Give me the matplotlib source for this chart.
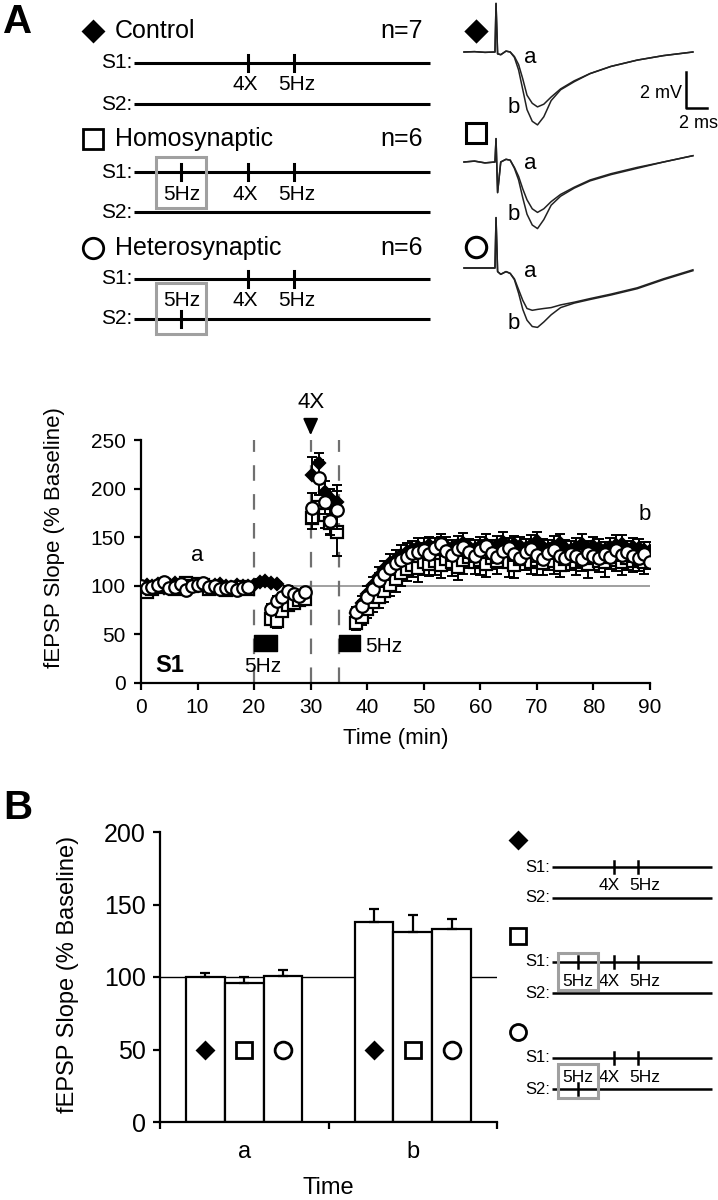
import matplotlib
matplotlib.use("Agg")
import matplotlib.pyplot as plt
from matplotlib.patches import Rectangle

plt.rcParams['font.family'] = ['Liberation Sans', 'DejaVu Sans']

# ---------------- data: time course (% baseline) ----------------
t_base = list(range(0, 20))
t_ctrl_5hz = [20, 21, 22, 23, 24]
t_prime = [23, 24, 25, 26, 27, 28, 29]
t_4x = [30.3, 31.4, 32.5, 33.5, 34.6]
t_late = list(range(38, 91))

ctrl_base = [99, 101, 100, 102, 98, 101, 103, 100, 99, 102, 101, 100, 98, 101, 102, 100, 99, 101, 100, 100]
homo_base = [95, 94, 97, 99, 101, 100, 97, 98, 103, 100, 102, 101, 97, 99, 98, 96, 97, 98, 99, 97]
het_base = [100, 98, 99, 101, 104, 98, 99, 102, 96, 100, 101, 103, 99, 100, 97, 98, 99, 96, 98, 99]

ctrl_5hz = [101, 104, 105, 103, 102]
homo_prime = [66, 64, 74, 80, 82, 85, 86]
het_prime = [76, 84, 88, 95, 92, 90, 94]

ctrl_4x = [214, 226, 196, 190, 186]
homo_4x = [170, 181, 173, 165, 155]
het_4x = [180, 211, 186, 167, 178]

ctrl_late = [72, 82, 92, 101, 110, 117, 123, 128, 132, 135,
             138, 140, 139, 142, 140, 143, 141, 139, 142, 144,
             140, 138, 141, 143, 139, 142, 145, 140, 143, 141,
             139, 142, 146, 140, 138, 141, 144, 139, 137, 140,
             143, 138, 141, 139, 137, 140, 142, 143, 138, 140,
             139, 137, 136]
homo_late = [62, 68, 76, 83, 88, 95, 101, 107, 113, 117,
             121, 118, 124, 122, 126, 121, 128, 124, 119, 127,
             130, 125, 127, 122, 129, 126, 131, 124, 121, 128,
             130, 125, 127, 123, 129, 126, 121, 128, 131, 124,
             127, 122, 129, 126, 124, 130, 127, 125, 129, 126,
             128, 124, 131]
het_late = [73, 79, 88, 97, 106, 112, 118, 123, 127, 130,
            134, 135, 137, 133, 139, 143, 136, 132, 138, 140,
            135, 131, 137, 141, 134, 130, 136, 139, 133, 129,
            135, 138, 132, 128, 134, 137, 131, 129, 133, 131,
            128, 134, 131, 129, 133, 130, 137, 132, 135, 131,
            129, 133, 125]

# error bars (SEM); control drawn upward, homosynaptic downward, heterosynaptic both
ctrl_err_base = [3, 2, 3, 2, 3, 3, 2, 3, 2, 3, 3, 2, 3, 3, 2, 3, 2, 3, 2, 3]
homo_err_base = [4, 5, 4, 3, 4, 5, 4, 4, 3, 5, 4, 4, 5, 3, 4, 4, 5, 4, 3, 4]
het_err_base = [3, 2, 3, 3, 2, 3, 3, 2, 3, 3, 2, 3, 2, 3, 3, 2, 3, 3, 2, 3]
ctrl_err_5hz = [2, 3, 2, 3, 2]
homo_err_prime = [6, 7, 6, 6, 5, 6, 5]
het_err_prime = [5, 6, 5, 5, 4, 5, 4]
ctrl_err_4x = [18, 11, 12, 10, 18]
homo_err_4x = [12, 14, 14, 12, 24]
het_err_4x = [15, 18, 12, 15, 20]
ctrl_err_late = [6, 7, 8, 8, 9, 9, 10, 9, 10, 9, 8, 9, 10, 8, 9, 10, 9, 8, 9, 10,
                 8, 9, 9, 10, 8, 9, 10, 9, 8, 9, 9, 10, 9, 8, 9, 10, 9, 8, 9, 9,
                 10, 8, 9, 9, 8, 9, 10, 9, 8, 9, 9, 8, 9]
homo_err_late = [7, 8, 9, 10, 11, 12, 12, 13, 13, 12, 12, 14, 13, 12, 15, 13, 12, 14, 13, 15,
                 12, 13, 16, 13, 12, 14, 13, 15, 13, 12, 14, 13, 16, 12, 13, 14, 12, 13, 15, 13,
                 12, 14, 13, 12, 15, 13, 12, 14, 13, 12, 13, 12, 14]
het_err_late = [5, 5, 6, 6, 7, 6, 7, 6, 6, 7, 6, 5, 7, 6, 6, 7, 5, 6, 7, 6,
                6, 7, 5, 6, 6, 7, 6, 5, 7, 6, 6, 5, 7, 6, 6, 7, 5, 6, 6, 7,
                6, 5, 7, 6, 6, 7, 5, 6, 6, 7, 6, 6, 7]

stim_windows = [(20, 24), (35, 38.8)]   # 5 Hz trains (min)
event_lines = [20, 30, 35]              # dashed lines (min)

# ---------------- data: panel B bars ----------------
bar_groups = ['a', 'b']
bar_ctrl = [100, 138]
bar_homo = [96, 131]
bar_het = [101, 133]
err_ctrl = [2.5, 9]
err_homo = [4, 12]
err_het = [3.5, 7]

# ---------------- data: example traces (ms, mV rel. baseline) ----------------
trace_t = [0, 1, 2, 2.95, 3.05, 3.2, 3.5, 4.0, 4.4, 4.8, 5.2, 5.6, 6.0, 6.5, 7.0, 7.6,
           8.3, 9.2, 10.5, 12, 14, 16.5, 19, 21.8]
ctrl_a = [0, 0.02, -0.02, 0, 2.7, -0.1, -0.15, 0.05, 0.0, -0.25, -0.7, -1.5, -2.4, -2.85, -3.05, -2.9,
          -2.5, -2.05, -1.6, -1.2, -0.8, -0.45, -0.2, 0.0]
ctrl_b = [0, 0.02, -0.02, 0, 2.7, -0.1, -0.15, 0.05, 0.0, -0.3, -1.0, -2.1, -3.2, -3.85, -4.05, -3.6,
          -2.7, -2.1, -1.65, -1.2, -0.8, -0.45, -0.2, 0.0]
homo_a = [0, 0.05, -0.05, 0, 1.3, -1.7, 0.0, 0.15, 0.1, -0.3, -0.8, -1.5, -2.1, -2.6, -2.8, -2.6,
          -2.2, -1.8, -1.4, -1.0, -0.65, -0.3, 0.0, 0.35]
homo_b = [0, 0.05, -0.05, 0, 1.3, -1.7, 0.0, 0.15, 0.1, -0.35, -1.0, -2.0, -2.9, -3.5, -3.7, -3.2,
          -2.4, -1.9, -1.45, -1.05, -0.7, -0.35, 0.0, 0.35]
het_a = [0, 0, 0, 0, 2.8, -0.2, -0.35, -0.2, -0.3, -0.6, -1.2, -1.8, -2.25, -2.35, -2.3, -2.25,
         -2.2, -2.05, -1.9, -1.7, -1.45, -1.1, -0.6, -0.1]
het_b = [0, 0, 0, 0, 2.8, -0.2, -0.35, -0.2, -0.3, -0.65, -1.4, -2.3, -2.9, -3.25, -3.3, -3.0,
         -2.6, -2.2, -1.95, -1.75, -1.5, -1.15, -0.65, -0.15]

conditions = ['Control', 'Homosynaptic', 'Heterosynaptic']
cond_n = [7, 6, 6]
s1_events = [['4X', '5Hz'], ['prime', '4X', '5Hz'], ['4X', '5Hz']]
s2_events = [[], [], ['prime']]
event_frac = {'prime': 0.16, '4X': 0.385, '5Hz': 0.54}
event_text = {'prime': '5Hz', '4X': '4X', '5Hz': '5Hz'}

# marker styles per condition
mk = [dict(marker='D', mfc='black', mec='black'),
      dict(marker='s', mfc='white', mec='black'),
      dict(marker='o', mfc='white', mec='black')]
mk_scale = [0.72, 1.0, 1.05]   # relative sizes diamond / square / circle

fig = plt.figure(figsize=(7.18, 12), dpi=100)

# canvas in pixel units for schematics and panel letters
cv = fig.add_axes([0, 0, 1, 1], zorder=0)
cv.set_xlim(0, 718)
cv.set_ylim(1200, 0)
cv.axis('off')

cv.text(18, 22, 'A', fontsize=29, fontweight='bold', ha='center', va='center')
cv.text(18, 808, 'B', fontsize=29, fontweight='bold', ha='center', va='center')


def protocol(rows_title, rows_s1, rows_s2, x0, x1, mx, tx=None, nx=None, title_fs=18,
             s_fs=15, ev_fs=15, lw=2.2, tick=8, lab_dy=22, box_hw=25, pad_out=15,
             pad_lab=14, ms=14, ev_dx=(-3, 3)):
    for i in range(3):
        y0, y1, y2 = rows_title[i], rows_s1[i], rows_s2[i]
        cv.plot([mx], [y0], ls='none', ms=ms * mk_scale[i], mew=2, **mk[i])
        if tx is not None:
            cv.text(tx, y0, conditions[i], fontsize=title_fs, va='center', ha='left')
            cv.text(nx, y0, 'n=%d' % cond_n[i], fontsize=title_fs, va='center', ha='right')
        for yy, lab in [(y1, 'S1:'), (y2, 'S2:')]:
            cv.plot([x0, x1], [yy, yy], color='black', lw=lw, solid_capstyle='butt')
            cv.text(x0 - 2, yy, lab, fontsize=s_fs, va='center', ha='right')
        ylab = y1 + lab_dy
        for ev_list, yy in [(s1_events[i], y1), (s2_events[i], y2)]:
            for ev in ev_list:
                xe = x0 + event_frac[ev] * (x1 - x0)
                cv.plot([xe, xe], [yy - tick, yy + tick], color='black', lw=lw)
                dx = 0 if ev == 'prime' else (ev_dx[0] if ev == '4X' else ev_dx[1])
                cv.text(xe + dx, ylab, event_text[ev], fontsize=ev_fs, ha='center', va='center')
                if ev == 'prime':
                    if yy == y1:
                        top, bot = y1 - pad_out, ylab + pad_lab
                    else:
                        top, bot = ylab - pad_lab - 4, y2 + pad_out
                    cv.add_patch(Rectangle((xe - box_hw, top), 2 * box_hw, bot - top, fill=False,
                                           ec='#a0a0a0', lw=2.2, zorder=5))


protocol([31, 139, 248], [63, 172, 279], [104, 212, 319], 134, 430, 93, tx=115, nx=423)
protocol([840, 936, 1032], [867, 962, 1058], [898, 993, 1089], 552, 712, 518,
         s_fs=12, ev_fs=12.5, lw=1.8, tick=6, lab_dy=19, box_hw=20, pad_out=9, pad_lab=9,
         ms=11, ev_dx=(-4, 6))

# ---------------- example traces ----------------
axT = fig.add_axes([455 / 718, 1 - 340 / 1200, 263 / 718, 340 / 1200], zorder=1)
axT.set_xlim(-9 / 10.5, 254 / 10.5)
axT.set_ylim(-340 / 18, 0)
axT.axis('off')
trace_sets = [(ctrl_a, ctrl_b), (homo_a, homo_b), (het_a, het_b)]
base_off = [-52 / 18, -162 / 18, -268 / 18]
mark_off = [-31 / 18, -133 / 18, -247 / 18]
a_lab = [-0.28, -0.06, -0.22]
b_lab = [-3.06, -2.94, -3.06]
for i, (ta, tb) in enumerate(trace_sets):
    off = base_off[i]
    axT.plot(trace_t, [v + off for v in ta], color='#222222', lw=1.1)
    axT.plot(trace_t, [v + off for v in tb], color='#222222', lw=1.1)
    axT.plot([1.14], [mark_off[i]], ls='none', ms=14 * mk_scale[i], mew=2.2, **mk[i])
    axT.text(6.3, off + a_lab[i], 'a', fontsize=16, ha='center', va='center')
    axT.text(4.7, off + b_lab[i], 'b', fontsize=16, ha='center', va='center')
# scale bar 2 mV / 2 ms
axT.plot([21.1, 21.1, 23.1], [-4.0, -6.0, -6.0], color='black', lw=1.8)
axT.text(20.8, -5.2, '2 mV', fontsize=13, ha='right', va='center')
axT.text(22.3, -6.4, '2 ms', fontsize=13, ha='center', va='top')

# ---------------- time course ----------------
ax = fig.add_axes([141 / 718, 1 - 683 / 1200, 509 / 718, 243 / 1200], zorder=2)
ax.patch.set_alpha(0)
ax.axhline(100, color='#909090', lw=1.2, zorder=1)
ax.vlines(event_lines, 0, 250, colors='#707070', linestyles=(0, (7, 6)), lw=1.6, zorder=1)
ax.broken_barh([(a, b - a) for a, b in stim_windows], (33, 16), color='black', zorder=2)

ctrl_t = t_base + t_ctrl_5hz + t_4x + t_late
ctrl_v = ctrl_base + ctrl_5hz + ctrl_4x + ctrl_late
ctrl_e = ctrl_err_base + ctrl_err_5hz + ctrl_err_4x + ctrl_err_late
homo_t = t_base + t_prime + t_4x + t_late
homo_v = homo_base + homo_prime + homo_4x + homo_late
homo_e = homo_err_base + homo_err_prime + homo_err_4x + homo_err_late
het_t = t_base + t_prime + t_4x + t_late
het_v = het_base + het_prime + het_4x + het_late
het_e = het_err_base + het_err_prime + het_err_4x + het_err_late

zero = lambda e: [0] * len(e)
series = [(ctrl_t, ctrl_v, [zero(ctrl_e), ctrl_e], 3),
          (homo_t, homo_v, [homo_e, zero(homo_e)], 4),
          (het_t, het_v, [het_e, het_e], 5)]
for i, (tt, vv, ee, z) in enumerate(series):
    ax.errorbar(tt, vv, yerr=ee, fmt='none', ecolor='black', elinewidth=1.4,
                capsize=3.5, capthick=1.4, zorder=z)
    ax.plot(tt, vv, ls='none', ms=8.6 * mk_scale[i], mew=1.6, zorder=z + 0.5, **mk[i])

ax.set_xlim(0, 90)
ax.set_ylim(0, 250)
ax.set_xticks(range(0, 91, 10))
ax.set_yticks(range(0, 251, 50))
for s in ['top', 'right']:
    ax.spines[s].set_visible(False)
for s in ['left', 'bottom']:
    ax.spines[s].set_linewidth(1.6)
ax.tick_params(direction='out', length=5, width=1.6, labelsize=15, pad=6)
ax.set_xlabel('Time (min)', fontsize=16, labelpad=8)
ax.set_ylabel('fEPSP Slope (% Baseline)', fontsize=16)
ax.yaxis.set_label_coords(-0.15, 0.6)

ax.text(10, 131, 'a', fontsize=16, ha='center', va='center')
ax.text(89, 173, 'b', fontsize=16, ha='center', va='center')
ax.text(5.1, 18.5, 'S1', fontsize=17, fontweight='bold', ha='center', va='center')
ax.text(21.6, 17, '5Hz', fontsize=15, ha='center', va='center')
ax.text(39.6, 38, '5Hz', fontsize=15, ha='left', va='center')
ax.annotate('', xy=(30, 252), xytext=(30, 274), annotation_clip=False,
            arrowprops=dict(arrowstyle='-|>,head_length=1.0,head_width=0.45', color='black', lw=1.5))
ax.text(30, 289, '4X', fontsize=16, ha='center', va='center', clip_on=False)

# ---------------- panel B bars ----------------
axB = fig.add_axes([160 / 718, 1 - 1122 / 1200, 337 / 718, 290 / 1200], zorder=2)
axB.patch.set_alpha(0)
axB.axhline(100, color='black', lw=1.0, zorder=1)
width = 0.23
centers = [0.5, 1.5]
bar_sets = [(bar_ctrl, err_ctrl), (bar_homo, err_homo), (bar_het, err_het)]
for i, (vals, errs) in enumerate(bar_sets):
    xs = [c + (i - 1) * width for c in centers]
    axB.bar(xs, vals, width=width, color='white', edgecolor='black', lw=1.6, zorder=2,
            yerr=[zero(errs), errs], error_kw=dict(ecolor='black', elinewidth=1.6,
                                                   capsize=3.5, capthick=1.6, zorder=3))
    axB.plot(xs, [50, 50], ls='none', ms=11.5 * mk_scale[i], mew=2, zorder=4, **mk[i])
axB.set_xlim(0, 2)
axB.set_ylim(0, 200)
axB.set_yticks(range(0, 201, 50))
axB.set_xticks([0, 1, 2])
axB.set_xticklabels([])
axB.set_xticks(centers, minor=True)
axB.set_xticklabels(bar_groups, minor=True)
axB.tick_params(axis='x', which='minor', length=0, labelsize=17, pad=14)
axB.tick_params(axis='x', which='major', direction='out', length=5, width=1.6)
axB.tick_params(axis='y', direction='out', length=5, width=1.6, labelsize=18, pad=5)
for s in ['top', 'right']:
    axB.spines[s].set_visible(False)
for s in ['left', 'bottom']:
    axB.spines[s].set_linewidth(1.6)
axB.set_xlabel('Time', fontsize=17, labelpad=10)
axB.set_ylabel('fEPSP Slope (% Baseline)', fontsize=17)
axB.yaxis.set_label_coords(-0.24, 0.51)

fig.savefig('out.png', dpi=100)
